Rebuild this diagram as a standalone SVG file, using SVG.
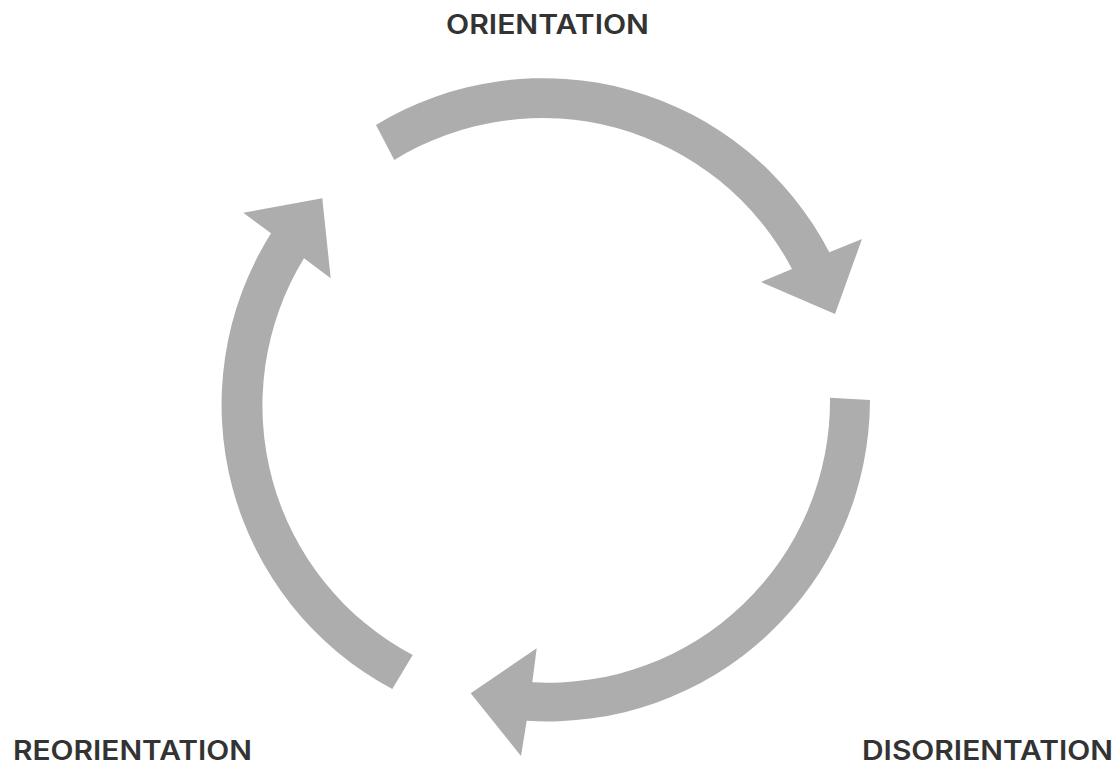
<svg xmlns="http://www.w3.org/2000/svg" width="1119" height="765" viewBox="0 0 1119 765">
<style>
.arrow{fill:#adadad;stroke:none}
.lbl{font-family:Inter,Lato,"Liberation Sans",sans-serif;font-weight:600;font-size:26.5px;fill:#333333}
</style>
<rect width="1119" height="765" fill="#ffffff"/>
<g id="connectors">
<path id="arrow-orientation-to-disorientation" class="arrow" d="M376,125 A322,322 0 0 1 829.3,252.3 L862,239 L835,314 L761,282 L792,269 A282,282 0 0 0 394.3,160 Z"/>
<path id="arrow-disorientation-to-reorientation" class="arrow" d="M870,400 A322,322 0 0 1 526.7,720.7 L521,756 L470.7,693.3 L536.7,648.3 L532.3,682.3 A282,282 0 0 0 830,397.7 Z"/>
<path id="arrow-reorientation-to-orientation" class="arrow" d="M392.3,689 A322,322 0 0 1 271,233.3 L243.3,212.7 L322.3,198.3 L330.7,278.3 L304,258.3 A282,282 0 0 0 412.7,655 Z"/>
</g>
<g id="node-orientation">
<text class="lbl" x="446" y="34" textLength="203" lengthAdjust="spacingAndGlyphs">ORIENTATION</text>
</g>
<g id="node-reorientation">
<text class="lbl" x="13" y="760" textLength="239" lengthAdjust="spacingAndGlyphs">REORIENTATION</text>
</g>
<g id="node-disorientation">
<text class="lbl" x="862" y="760" textLength="251" lengthAdjust="spacingAndGlyphs">DISORIENTATION</text>
</g>
</svg>
